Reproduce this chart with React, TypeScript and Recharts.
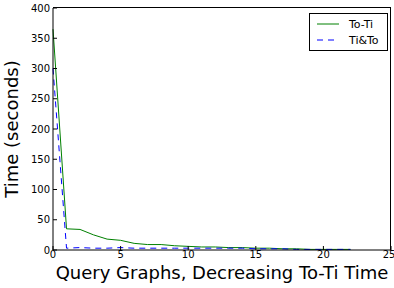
import { LineChart, Line, XAxis, YAxis } from 'recharts'

const queryIndex = [0, 1, 2, 3, 4, 5, 6, 7, 8, 9, 10, 11, 12, 13, 14, 15, 16, 17, 18, 19, 20, 21, 22]
const toTi = [365, 35, 34, 25, 18, 16, 11, 9, 9, 7, 6, 5, 5, 4, 4, 3, 3, 2, 2, 1, 1, 1, 1]
const tiTo = [300, 3, 4, 3, 3, 4, 3, 3, 3, 3, 3, 3, 3, 3, 3, 2, 2, 2, 1, 1, 1, 1, 1]
const xTicks = [0, 5, 10, 15, 20, 25]
const yTicks = [0, 50, 100, 150, 200, 250, 300, 350, 400]

const data = queryIndex.map((q, i) => ({ q, toTi: toTi[i], tiTo: tiTo[i] }))

const font = 'DejaVu Sans, sans-serif'
const tickStyle = { fill: '#000', fontSize: 10, fontFamily: font }

const legendItems = [
  { name: 'To-Ti', color: '#008000', dash: undefined },
  { name: 'Ti&To', color: '#0000ff', dash: '6 5' },
]

const LegendBox = () => (
  <div style={{
    position: 'absolute',
    left: 309,
    top: 13,
    border: '1px solid #000',
    background: '#fff',
    width: 77,
    padding: '2px 0',
    fontFamily: font,
    fontSize: 11,
    color: '#000',
  }}>
    {legendItems.map((item) => (
      <div key={item.name} style={{ display: 'flex', alignItems: 'center', height: 16 }}>
        <svg width={36} height={10} style={{ marginLeft: 3 }}>
          <line x1={4} y1={5} x2={26} y2={5} stroke={item.color} strokeWidth={1} strokeDasharray={item.dash} />
        </svg>
        <span>{item.name}</span>
      </div>
    ))}
  </div>
)

export default function App() {
  return (
    <div style={{ position: 'absolute', left: 0, top: 0, width: 394, height: 288, background: '#fff' }}>
      <LineChart width={394} height={288} data={data} margin={{ top: 8, right: 3, left: 0, bottom: 0 }}>
        <XAxis
          dataKey="q"
          type="number"
          domain={[0, 25]}
          ticks={xTicks}
          height={38}
          tick={tickStyle}
          tickSize={-4}
          tickMargin={5}
          stroke="#000"
          label={{ value: 'Query Graphs, Decreasing To-Ti Time', position: 'insideBottom', offset: 9, style: { fill: '#000', fontSize: 18, fontFamily: font } }}
        />
        <YAxis
          type="number"
          domain={[0, 400]}
          ticks={yTicks}
          width={53}
          tick={tickStyle}
          tickSize={-4}
          tickMargin={7}
          stroke="#000"
          label={{ value: 'Time (seconds)', angle: -90, position: 'insideLeft', offset: 12, style: { fill: '#000', fontSize: 18, fontFamily: font, textAnchor: 'middle' } }}
        />
        <Line dataKey="toTi" stroke="#008000" strokeWidth={1} dot={false} isAnimationActive={false} />
        <Line dataKey="tiTo" stroke="#0000ff" strokeWidth={1} strokeDasharray="6 5" dot={false} isAnimationActive={false} />
      </LineChart>
      {/* top and right edges of the plot frame */}
      <div style={{
        position: 'absolute',
        left: 53,
        top: 7,
        width: 337,
        height: 242,
        borderTop: '1px solid #000',
        borderRight: '1px solid #000',
        pointerEvents: 'none',
      }} />
      <LegendBox />
    </div>
  )
}
